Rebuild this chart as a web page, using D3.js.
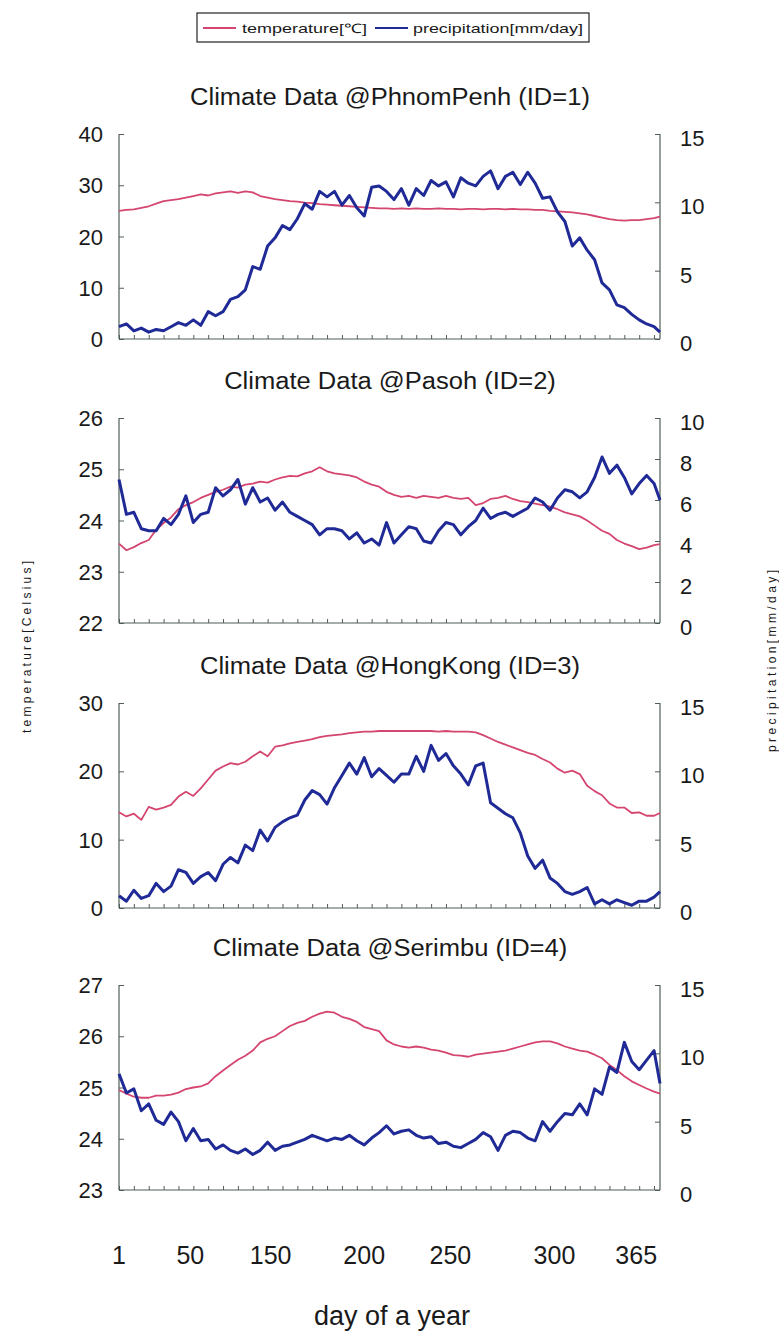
<!DOCTYPE html>
<html><head><meta charset="utf-8">
<script src="https://cdn.jsdelivr.net/npm/d3@7"></script>
<style>
body{margin:0;background:#fff;}
text{font-family:"Liberation Sans",Arial,sans-serif;fill:#1a1a1a;}
</style></head>
<body><svg id="c" width="779" height="1332"></svg>
<script>
const days = [1,6,11,16,21,26,31,36,41,46,51,56,61,66,71,76,81,86,91,96,101,106,111,116,121,126,131,136,141,146,151,156,161,166,171,176,181,186,191,196,201,206,211,216,221,226,231,236,241,246,251,256,261,266,271,276,281,286,291,296,301,306,311,316,321,326,331,336,341,346,351,356,361,365];

const stations = ["PhnomPenh","Pasoh","HongKong","Serimbu"];
const stationIds = [1,2,3,4];

const tempPhnomPenh = [25.0,25.2,25.3,25.6,25.9,26.4,26.9,27.1,27.3,27.6, 27.9,28.2,28.0,28.4,28.6,28.8,28.5,28.8,28.6,27.9, 27.6,27.3,27.1,26.9,26.8,26.6,26.5,26.3,26.2,26.1, 26.0,25.9,25.8,25.7,25.6,25.5,25.5,25.4,25.5,25.4, 25.5,25.4,25.4,25.5,25.4,25.4,25.3,25.4,25.4,25.3, 25.4,25.4,25.3,25.4,25.3,25.3,25.2,25.2,25.0,24.9, 24.8,24.7,24.5,24.3,24.0,23.7,23.4,23.2,23.1,23.2, 23.2,23.4,23.6,23.9];
const precPhnomPenh = [0.9,1.1,0.6,0.8,0.5,0.7,0.6,0.9,1.2,1.0, 1.4,1.0,2.0,1.7,2.0,2.9,3.1,3.6,5.3,5.1, 6.8,7.4,8.3,8.0,8.8,9.9,9.5,10.8,10.4,10.8, 9.8,10.5,9.6,9.0,11.1,11.2,10.8,10.2,11.0,9.8, 11.0,10.5,11.6,11.2,11.5,10.4,11.8,11.4,11.2,11.9, 12.3,11.0,11.9,12.2,11.3,12.2,11.4,10.3,10.4,9.3, 8.6,6.8,7.4,6.5,5.8,4.1,3.6,2.5,2.3,1.8, 1.4,1.1,0.9,0.5];

const tempPasoh = [23.55,23.42,23.48,23.56,23.62,23.82,23.95,24.06,24.22,24.30, 24.36,24.44,24.50,24.56,24.60,24.66,24.64,24.70,24.72,24.76, 24.74,24.80,24.84,24.87,24.86,24.92,24.96,25.04,24.96,24.92, 24.90,24.88,24.84,24.76,24.70,24.66,24.56,24.50,24.46,24.48, 24.44,24.48,24.46,24.44,24.48,24.44,24.42,24.44,24.30,24.34, 24.42,24.44,24.48,24.42,24.38,24.36,24.33,24.30,24.27,24.22, 24.16,24.12,24.08,24.00,23.90,23.80,23.74,23.62,23.55,23.50, 23.44,23.47,23.52,23.54];
const precPasoh = [7.0,5.3,5.4,4.6,4.5,4.5,5.1,4.8,5.3,6.2, 4.9,5.3,5.4,6.6,6.2,6.5,7.0,5.8,6.6,5.9, 6.1,5.5,5.9,5.4,5.2,5.0,4.8,4.3,4.6,4.6, 4.5,4.1,4.4,3.9,4.1,3.8,4.9,3.9,4.3,4.7, 4.6,4.0,3.9,4.5,4.9,4.8,4.3,4.7,5.0,5.6, 5.1,5.3,5.4,5.2,5.4,5.6,6.1,5.9,5.5,6.1, 6.5,6.4,6.1,6.4,7.1,8.1,7.3,7.7,7.1,6.3, 6.8,7.2,6.8,6.0];

const tempHongKong = [14.0,13.4,13.8,12.9,14.8,14.4,14.7,15.1,16.3,17.0, 16.4,17.5,18.8,20.1,20.7,21.2,21.0,21.4,22.2,22.9, 22.2,23.6,23.8,24.1,24.3,24.5,24.7,25.0,25.2,25.3, 25.4,25.6,25.7,25.8,25.8,25.9,25.9,25.9,25.9,25.9, 25.9,25.9,25.9,25.8,25.9,25.8,25.8,25.8,25.7,25.3, 24.8,24.3,23.9,23.5,23.1,22.7,22.4,21.8,21.3,20.4, 19.8,20.1,19.6,17.9,17.1,16.5,15.3,14.7,14.7,13.9, 14.0,13.5,13.5,13.9];
const precHongKong = [0.9,0.5,1.3,0.7,0.9,1.8,1.2,1.6,2.8,2.6, 1.8,2.3,2.6,2.0,3.2,3.7,3.3,4.6,4.2,5.7, 4.9,5.9,6.3,6.6,6.8,7.9,8.6,8.3,7.6,8.8, 9.7,10.6,9.8,11.0,9.6,10.2,9.7,9.2,9.8,9.8, 11.1,10.0,11.9,10.8,11.3,10.4,9.8,9.0,10.4,10.6, 7.7,7.3,6.9,6.6,5.5,3.8,2.9,3.5,2.2,1.8, 1.2,1.0,1.2,1.5,0.3,0.6,0.3,0.6,0.4,0.2, 0.5,0.5,0.8,1.2];

const tempSerimbu = [24.95,24.88,24.82,24.80,24.80,24.84,24.84,24.86,24.90,24.97, 25.00,25.02,25.08,25.22,25.33,25.44,25.54,25.62,25.72,25.88, 25.95,26.00,26.10,26.20,26.26,26.30,26.38,26.44,26.48,26.46, 26.38,26.34,26.28,26.18,26.14,26.10,25.92,25.84,25.80,25.78, 25.80,25.78,25.74,25.72,25.68,25.63,25.62,25.60,25.64,25.66, 25.68,25.70,25.72,25.76,25.80,25.84,25.88,25.90,25.90,25.86, 25.80,25.76,25.72,25.70,25.64,25.57,25.44,25.34,25.22,25.12, 25.05,24.98,24.92,24.88];
const precSerimbu = [8.5,7.1,7.4,5.8,6.3,5.1,4.8,5.7,5.0,3.6, 4.5,3.6,3.7,3.0,3.3,2.9,2.7,3.0,2.6,2.9, 3.5,2.9,3.2,3.3,3.5,3.7,4.0,3.8,3.6,3.8, 3.7,4.0,3.6,3.3,3.8,4.2,4.7,4.1,4.3,4.4, 4.0,3.8,3.9,3.4,3.5,3.2,3.1,3.4,3.7,4.2, 3.9,2.9,4.0,4.3,4.2,3.8,3.6,5.0,4.3,5.0, 5.6,5.5,6.3,5.5,7.4,7.0,9.0,8.6,10.8,9.4, 8.8,9.5,10.2,7.8];

const tempSeries = [tempPhnomPenh, tempPasoh, tempHongKong, tempSerimbu];
const precSeries = [precPhnomPenh, precPasoh, precHongKong, precSerimbu];

const tempDomains = [[0,40],[22,26],[0,30],[23,27]];
const precDomains = [[0,15],[0,10],[0,15],[0,15]];
const tempTicks = [[0,10,20,30,40],[22,23,24,25,26],[0,10,20,30],[23,24,25,26,27]];
const precTicks = [[0,5,10,15],[0,2,4,6,8,10],[0,5,10,15],[0,5,10,15]];

const minorTickDays = [1,11,21,31,41,51,61,71,81,91,101,111,121,131,141,151,161,171,181,191,201,211,221,231,241,251,261,271,281,291,301,311,321,331,341,351,361];
const xLabelDays = [1,49,103,166,224,294,349];
const xLabels = ["1","50","150","200","250","300","365"];

const legendLabels = ["temperature[℃]","precipitation[mm/day]"];
const tempColor = "#d4456f", precColor = "#1f2a96", axisColor = "#4f5f55";

const L = 119, R = 660, H = 205;
const panelTops = [134, 418, 703, 985];

const svg = d3.select("#c");
const x = d3.scaleLinear().domain([1,365]).range([L,R]);

stations.forEach((name,i)=>{
  const top = panelTops[i], bot = top + H;
  const g = svg.append("g");
  const yT = d3.scaleLinear().domain(tempDomains[i]).range([bot,top]);
  const yP = d3.scaleLinear().domain(precDomains[i]).range([bot,top]);

  const title = g.append("text").attr("x",390).attr("y",top-29).attr("text-anchor","middle")
   .attr("font-size",23).text(`Climate Data @${name} (ID=${stationIds[i]})`);
  const natural = title.node().getComputedTextLength();
  title.attr("textLength", natural*1.11).attr("lengthAdjust","spacingAndGlyphs");

  const la = g.append("g").attr("transform",`translate(${L},0)`)
    .call(d3.axisRight(yT).tickValues(tempTicks[i]).tickSize(5).tickFormat(""));
  const ra = g.append("g").attr("transform",`translate(${R},0)`)
    .call(d3.axisLeft(yP).tickValues(precTicks[i]).tickSize(5).tickFormat(""));
  const ba = g.append("g").attr("transform",`translate(0,${bot})`)
    .call(d3.axisTop(x).tickValues(minorTickDays).tickSize(4).tickFormat(""));
  [la,ra,ba].forEach(a=>{
    a.select(".domain").attr("stroke",axisColor).attr("stroke-width",1.2);
    a.selectAll(".tick line").attr("stroke",axisColor).attr("stroke-width",1);
  });
  la.select(".domain").attr("d",`M0,${top}V${bot}`);
  ra.select(".domain").attr("d",`M0,${top}V${bot}`);
  ba.select(".domain").attr("d",`M${L},0H${R}`);

  g.selectAll(".tl").data(tempTicks[i]).enter().append("text")
   .attr("x",L-16).attr("y",d=>yT(d)+8).attr("text-anchor","end")
   .attr("font-size",22).text(d=>d);
  g.selectAll(".pl").data(precTicks[i]).enter().append("text")
   .attr("x",R+20).attr("y",d=>yP(d)+12).attr("text-anchor","start")
   .attr("font-size",22).text(d=>d);

  const tData = days.map((d,k)=>[d,tempSeries[i][k]]);
  const pData = days.map((d,k)=>[d,precSeries[i][k]]);
  g.append("path").datum(tData).attr("fill","none").attr("stroke",tempColor)
   .attr("stroke-width",1.8).attr("stroke-linejoin","round")
   .attr("d",d3.line().x(d=>x(d[0])).y(d=>yT(d[1])));
  g.append("path").datum(pData).attr("fill","none").attr("stroke",precColor)
   .attr("stroke-width",3).attr("stroke-linejoin","round")
   .attr("d",d3.line().x(d=>x(d[0])).y(d=>yP(d[1])));
});

svg.selectAll(".xl").data(xLabelDays).enter().append("text")
  .attr("x",d=>x(d)).attr("y",1264).attr("text-anchor","middle")
  .attr("font-size",25).text((d,k)=>xLabels[k]);
svg.append("text").attr("x",392).attr("y",1325).attr("text-anchor","middle")
  .attr("font-size",27).text("day of a year");

svg.append("text").attr("transform","translate(31,647) rotate(-90)")
  .attr("text-anchor","middle").attr("font-size",12)
  .attr("textLength",172).attr("lengthAdjust","spacing").text("temperature[Celsius]");
svg.append("text").attr("transform","translate(776,661) rotate(-90)")
  .attr("text-anchor","middle").attr("font-size",12)
  .attr("textLength",182).attr("lengthAdjust","spacing").text("precipitation[mm/day]");

const lg = svg.append("g");
lg.append("rect").attr("x",197).attr("y",13).attr("width",392).attr("height",29)
  .attr("fill","#fff").attr("stroke","#222").attr("stroke-width",1.2);
const legendColors = [tempColor, precColor];
const legendLineX = [203, 375];
const legendTextX = [242, 413];
const legendTextW = [125, 170];
legendLabels.forEach((lab,k)=>{
  lg.append("line").attr("x1",legendLineX[k]).attr("x2",legendLineX[k]+33)
    .attr("y1",28).attr("y2",28).attr("stroke",legendColors[k]).attr("stroke-width",2);
  lg.append("text").attr("x",legendTextX[k]).attr("y",33).attr("font-size",13)
    .attr("textLength",legendTextW[k]).attr("lengthAdjust","spacingAndGlyphs").text(lab);
});
</script></body></html>
